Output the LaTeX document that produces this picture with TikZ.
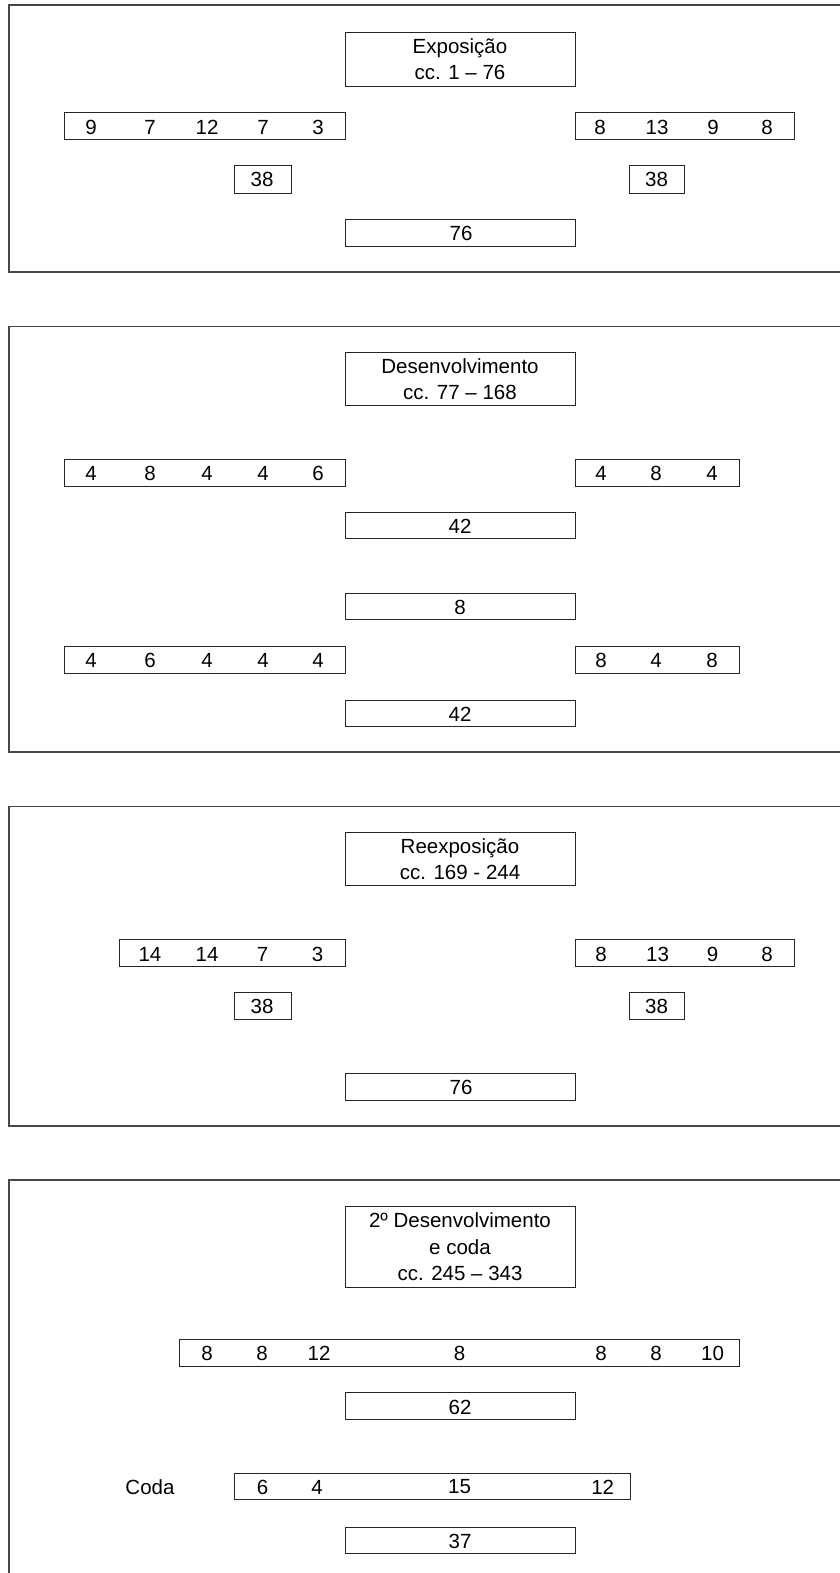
\documentclass[tikz,border=0pt]{standalone}
\usepackage{fontspec}
\setmainfont{Liberation Sans}
\begin{document}
\begin{tikzpicture}[x=1pt,y=-1pt,
  frame/.style={draw=black!72,line width=1.1pt},
  bx/.style={draw=black!85,line width=0.9pt,inner sep=0pt,outer sep=0pt,rectangle},
  num/.style={inner sep=0pt,font=\fontsize{20.5}{26}\selectfont},
  ttl/.style={bx,align=center,font=\fontsize{20.5}{26.5}\selectfont,minimum width=230pt}]
\useasboundingbox (0,0) rectangle (840,1573);
\clip (0,0) rectangle (840,1573);
\fill[white] (0,0) rectangle (840,1573);

% ---------- Panel 1 ----------
\draw[frame] (850,5) -- (9,5) -- (9,272) -- (850,272);
\node[ttl,minimum height=54pt] (t1) at (460,59) {Exposição\\cc. 1 -- 76};
\node[bx,minimum width=281pt,minimum height=27pt] (r1L) at (204.5,126) {};
\node[num] (a1) at (91,127) {9};
\node[num] (a2) at (150,127) {7};
\node[num] (a3) at (207,127) {12};
\node[num] (a4) at (263,127) {7};
\node[num] (a5) at (318,127) {3};
\node[bx,minimum width=219pt,minimum height=27pt] (r1R) at (684.5,126) {};
\node[num] (b1) at (600,127) {8};
\node[num] (b2) at (657,127) {13};
\node[num] (b3) at (713,127) {9};
\node[num] (b4) at (767,127) {8};
\node[bx,minimum width=57pt,minimum height=28pt] (s1L) at (262.5,179) {};
\node[num] (s1Lt) at (262,179.5) {38};
\node[bx,minimum width=55pt,minimum height=28pt] (s1R) at (656.5,179) {};
\node[num] (s1Rt) at (656.5,179.5) {38};
\node[bx,minimum width=230pt,minimum height=27pt] (tot1) at (460,232.5) {};
\node[num] (tot1t) at (461,233) {76};

% ---------- Panel 2 ----------
\draw[frame] (850,326.7) -- (9,326.7) -- (9,752) -- (850,752);
\node[ttl,minimum height=53pt] (t2) at (460,379.2) {Desenvolvimento\\cc. 77 -- 168};
\node[bx,minimum width=281pt,minimum height=27pt] (r2L) at (204.5,472.5) {};
\node[num] (c1) at (91,473.5) {4};
\node[num] (c2) at (150,473.5) {8};
\node[num] (c3) at (207,473.5) {4};
\node[num] (c4) at (263,473.5) {4};
\node[num] (c5) at (318,473.5) {6};
\node[bx,minimum width=164pt,minimum height=27pt] (r2R) at (657,472.5) {};
\node[num] (d1) at (601,473.5) {4};
\node[num] (d2) at (656,473.5) {8};
\node[num] (d3) at (712,473.5) {4};
\node[bx,minimum width=230pt,minimum height=26pt] (m2a) at (460,525.7) {};
\node[num] (m2at) at (460,526.5) {42};
\node[bx,minimum width=230pt,minimum height=26pt] (m2b) at (460,606) {};
\node[num] (m2bt) at (460,607) {8};
\node[bx,minimum width=281pt,minimum height=27pt] (r2L2) at (204.5,659.5) {};
\node[num] (e1) at (91,660.5) {4};
\node[num] (e2) at (150,660.5) {6};
\node[num] (e3) at (207,660.5) {4};
\node[num] (e4) at (263,660.5) {4};
\node[num] (e5) at (318,660.5) {4};
\node[bx,minimum width=164pt,minimum height=27pt] (r2R2) at (657,659.5) {};
\node[num] (f1) at (601,660.5) {8};
\node[num] (f2) at (656,660.5) {4};
\node[num] (f3) at (712,660.5) {8};
\node[bx,minimum width=230pt,minimum height=26pt] (m2c) at (460,713) {};
\node[num] (m2ct) at (460,714) {42};

% ---------- Panel 3 ----------
\draw[frame] (850,806.7) -- (9,806.7) -- (9,1126) -- (850,1126);
\node[ttl,minimum height=53pt] (t3) at (460,859.2) {Reexposição\\cc. 169 - 244};
\node[bx,minimum width=226pt,minimum height=27.4pt] (r3L) at (232,953) {};
\node[num] (g1) at (150,954) {14};
\node[num] (g2) at (207,954) {14};
\node[num] (g3) at (262.5,954) {7};
\node[num] (g4) at (317.5,954) {3};
\node[bx,minimum width=219pt,minimum height=27.4pt] (r3R) at (684.5,953) {};
\node[num] (h1) at (601,954) {8};
\node[num] (h2) at (657.5,954) {13};
\node[num] (h3) at (712.5,954) {9};
\node[num] (h4) at (767,954) {8};
\node[bx,minimum width=57pt,minimum height=27pt] (s3L) at (262.5,1005.8) {};
\node[num] (s3Lt) at (262,1006.3) {38};
\node[bx,minimum width=55pt,minimum height=27pt] (s3R) at (656.5,1005.8) {};
\node[num] (s3Rt) at (656.5,1006.3) {38};
\node[bx,minimum width=230pt,minimum height=27pt] (tot3) at (460,1086.7) {};
\node[num] (tot3t) at (461,1087.5) {76};

% ---------- Panel 4 ----------
\draw[frame] (850,1180) -- (9,1180) -- (9,1590);
\node[ttl,minimum height=80.6pt] (t4) at (460,1247) {2º Desenvolvimento\\e coda\\cc. 245 -- 343};
\node[bx,minimum width=560pt,minimum height=26.7pt] (r4) at (459.4,1352.7) {};
\node[num] (k1) at (207,1353.5) {8};
\node[num] (k2) at (262,1353.5) {8};
\node[num] (k3) at (319,1353.5) {12};
\node[num] (k4) at (459.6,1353.5) {8};
\node[num] (k5) at (601,1353.5) {8};
\node[num] (k6) at (656,1353.5) {8};
\node[num] (k7) at (712.5,1353.5) {10};
\node[bx,minimum width=230pt,minimum height=27.5pt] (m4) at (460,1406) {};
\node[num] (m4t) at (460,1407) {62};
\node[num] (coda) at (150,1487) {Coda};
\node[bx,minimum width=395.4pt,minimum height=25.7pt] (r4c) at (432.3,1486.2) {};
\node[num] (p1) at (262.5,1487) {6};
\node[num] (p2) at (317,1487) {4};
\node[num] (p3) at (459.6,1487) {15};
\node[num] (p4) at (602.7,1487) {12};
\node[bx,minimum width=230pt,minimum height=26.3pt] (tot4) at (460,1540.2) {};
\node[num] (tot4t) at (460,1541) {37};
\end{tikzpicture}
\end{document}
